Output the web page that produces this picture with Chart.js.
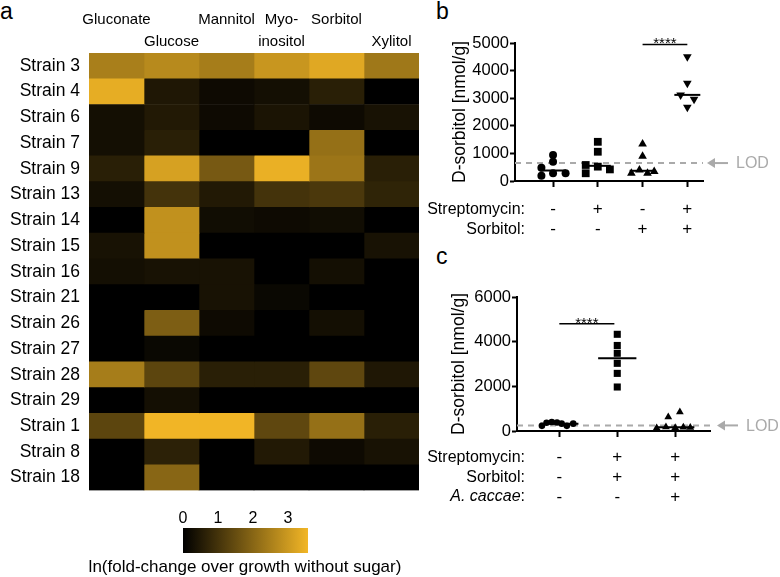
<!DOCTYPE html>
<html>
<head>
<meta charset="utf-8">
<script src="https://cdn.jsdelivr.net/npm/chart.js@4"></script>
<style>
    html, body { margin: 0; padding: 0; background: #fff; overflow: hidden; width: 780px; height: 577px; }
    body { position: relative; font-family: 'Liberation Sans', Arial, sans-serif; color: #000; }
    .box { position: absolute; }
    .tag { position: absolute; font-size: 23px; line-height: 1; }
    .row { position: absolute; font-size: 16px; line-height: 20px; text-align: right; white-space: nowrap; }
</style>
</head>
<body>
<div class="tag" style="left:0;top:0">a</div>
<div class="tag" style="left:436px;top:0">b</div>
<div class="tag" style="left:436px;top:245px">c</div>

<div class="box" style="left:0;top:0"><canvas id="heat" width="430" height="510"></canvas></div>
<div class="box" style="left:80px;top:505px"><canvas id="scale" width="340" height="50"></canvas></div>
<div class="row" style="left:80px;width:330px;top:557px;text-align:center;font-size:17px">ln(fold-change over growth without sugar)</div>

<div class="box" style="left:400px;top:0"><canvas id="panelB" width="380" height="262"></canvas></div>
<div class="row" style="right:255px;top:199px">Streptomycin:</div>
<div class="row" style="right:255px;top:219px">Sorbitol:</div>

<div class="box" style="left:400px;top:262px"><canvas id="panelC" width="380" height="315"></canvas></div>
<div class="row" style="right:255px;top:447px">Streptomycin:</div>
<div class="row" style="right:255px;top:467px">Sorbitol:</div>
<div class="row" style="right:255px;top:486px"><i>A. caccae</i>:</div>

<script>
// heatmap (panel a)
const strains = ['Strain 3', 'Strain 4', 'Strain 6', 'Strain 7', 'Strain 9', 'Strain 13', 'Strain 14',
    'Strain 15', 'Strain 16', 'Strain 21', 'Strain 26', 'Strain 27', 'Strain 28', 'Strain 29',
    'Strain 1', 'Strain 8', 'Strain 18'];
const sugarLabels = [['Gluconate', ''], ['', 'Glucose'], ['Mannitol', ''], ['Myo-', 'inositol'], ['Sorbitol', ''], ['', 'Xylitol']];
// columns: Gluconate, Glucose, Mannitol, Myo-inositol, Sorbitol, Xylitol
const lnFold = [
    [2.5, 2.7, 2.45, 2.95, 3.3, 2.35],
    [3.4, 0.45, 0.2, 0.3, 0.6, 0.0],
    [0.3, 0.5, 0.2, 0.4, 0.2, 0.35],
    [0.3, 0.6, 0.0, 0.0, 2.2, 0.0],
    [0.6, 3.15, 1.75, 3.45, 2.3, 0.6],
    [0.3, 1.0, 0.5, 1.0, 1.1, 0.7],
    [0.0, 2.85, 0.25, 0.2, 0.25, 0.0],
    [0.35, 2.85, 0.0, 0.0, 0.0, 0.35],
    [0.3, 0.35, 0.35, 0.0, 0.3, 0.0],
    [0.0, 0.0, 0.35, 0.15, 0.0, 0.0],
    [0.0, 1.85, 0.2, 0.0, 0.3, 0.0],
    [0.0, 0.15, 0.0, 0.0, 0.0, 0.0],
    [2.45, 1.35, 0.6, 0.6, 1.4, 0.45],
    [0.0, 0.3, 0.0, 0.0, 0.0, 0.0],
    [1.35, 3.55, 3.55, 1.4, 2.2, 0.6],
    [0.0, 0.65, 0.0, 0.5, 0.2, 0.35],
    [0.0, 2.0, 0.0, 0.0, 0.0, 0.0]
];
const scaleTicks = [0, 1, 2, 3];
const scaleMax = 3.57;

// panel b: D-sorbitol [nmol/g]
const bStrep = ['-', '+', '-', '+'];
const bSorb = ['-', '-', '+', '+'];
const bNone = [480, 190, 940, 700, 280, 280];
const bNoneSpread = [-0.26, -0.26, 0, 0, 0, 0.28];
const bStrepOnly = [580, 280, 1420, 1060, 520, 420];
const bStrepOnlySpread = [-0.27, -0.27, 0, 0, 0, 0.27];
const bSorbOnly = [1340, 900, 280, 400, 280, 340];
const bSorbOnlySpread = [0, 0, -0.25, -0.07, 0.11, 0.26];
const bBoth = [4500, 3540, 3120, 2960, 2670];
const bBothSpread = [0, 0, -0.15, 0.15, 0];
const bTicks = [0, 1000, 2000, 3000, 4000, 5000];
const bLod = 650;

// panel c
const cStrep = ['-', '+', '+'];
const cSorb = ['-', '+', '+'];
const cCaccae = ['-', '-', '+'];
const cNone = [230, 370, 400, 380, 330, 230, 330];
const cNoneSpread = [-0.30, -0.22, -0.13, -0.04, 0.04, 0.13, 0.24];
const cStrepSorb = [4330, 3830, 3480, 3030, 2580, 1970];
const cStrepSorbSpread = [0, 0, 0, 0, 0, 0];
const cCaccaeGroup = [130, 180, 150, 170, 160, 630, 850];
const cCaccaeSpread = [-0.32, -0.16, 0, 0.14, 0.26, -0.12, 0.08];
const cTicks = [0, 2000, 4000, 6000];
const cLod = 250;

Chart.defaults.font.family = "'Liberation Sans', Arial, sans-serif";
Chart.defaults.color = '#000';

function heatColor(v) {
    const t = Math.max(0, Math.min(1, v / scaleMax));
    return 'rgb(' + Math.round(242 * t) + ',' + Math.round(182 * t) + ',' + Math.round(38 * t) + ')';
}

new Chart(document.getElementById('heat'), {
    type: 'bar',
    data: {
        labels: strains,
        datasets: sugarLabels.map((s, j) => ({
            data: strains.map(() => [j, j + 1]),
            backgroundColor: strains.map((_, i) => heatColor(lnFold[i][j])),
            borderWidth: 0,
            barPercentage: 1,
            categoryPercentage: 1,
            grouped: false
        }))
    },
    options: {
        indexAxis: 'y',
        responsive: false,
        animation: false,
        devicePixelRatio: 1,
        layout: { padding: { left: 0, right: 11, top: 0, bottom: 8 } },
        plugins: { legend: { display: false }, tooltip: { enabled: false } },
        scales: {
            x: {
                type: 'linear', position: 'top', min: 0, max: 6,
                afterBuildTicks: ax => { ax.ticks = sugarLabels.map((s, j) => ({ value: j + 0.5 })); },
                ticks: { callback: (v, i) => sugarLabels[i], font: { size: 15, lineHeight: 1.467 }, padding: 0, maxRotation: 0, autoSkip: false },
                grid: { display: false, drawTicks: false },
                border: { display: false },
                afterFit: s => { s.height = 53; }
            },
            y: {
                ticks: { font: { size: 17.5 }, padding: 9, autoSkip: false },
                grid: { display: false, drawTicks: false },
                border: { display: false },
                afterFit: s => { s.width = 89; }
            }
        }
    }
});

new Chart(document.getElementById('scale'), {
    type: 'bar',
    data: {
        labels: [''],
        datasets: [{
            data: [[0, scaleMax]],
            backgroundColor: c => {
                const x = c.chart.scales.x;
                if (!c.chart.chartArea || !x) return heatColor(scaleMax / 2);
                const x0 = x.getPixelForValue(0), x1 = x.getPixelForValue(scaleMax);
                if (!isFinite(x0) || !isFinite(x1)) return heatColor(scaleMax / 2);
                const g = c.chart.ctx.createLinearGradient(x0, 0, x1, 0);
                g.addColorStop(0, heatColor(0));
                g.addColorStop(1, heatColor(scaleMax));
                return g;
            },
            borderWidth: 0, barPercentage: 1, categoryPercentage: 1
        }]
    },
    options: {
        indexAxis: 'y',
        responsive: false,
        animation: false,
        devicePixelRatio: 1,
        layout: { padding: { left: 103, right: 112, top: 0, bottom: 2 } },
        plugins: { legend: { display: false }, tooltip: { enabled: false } },
        scales: {
            x: {
                type: 'linear', position: 'top', min: 0, max: scaleMax,
                afterBuildTicks: ax => { ax.ticks = scaleTicks.map(v => ({ value: v })); },
                ticks: { font: { size: 16 }, padding: 0 },
                grid: { display: false, drawTicks: false },
                border: { display: false },
                afterFit: s => { s.height = 23; }
            },
            y: { display: false }
        }
    }
});

function points(vals, spread, x) {
    return vals.map((v, i) => ({ x: x + spread[i], y: v }));
}
function median(vals) {
    const s = [...vals].sort((p, q) => p - q);
    const m = s.length >> 1;
    return s.length % 2 ? s[m] : (s[m - 1] + s[m]) / 2;
}
function medianLine(vals, x, w) {
    const m = median(vals);
    return { data: [{ x: x - w, y: m }, { x: x + w, y: m }], showLine: true, pointRadius: 0, borderColor: '#000', borderWidth: 2 };
}
function dots(data, style, r, rot) {
    return { data: data, pointStyle: style, pointRadius: r, rotation: rot || 0, backgroundColor: '#000', borderColor: '#000', borderWidth: 0, clip: false };
}

// stars and LOD arrow
const notes = {
    id: 'notes',
    afterDatasetsDraw(chart, args, o) {
        const { ctx, scales: { x, y } } = chart;
        ctx.save();
        ctx.fillStyle = '#000';
        ctx.font = "15px 'Liberation Sans', Arial";
        ctx.textAlign = 'center';
        ctx.textBaseline = 'alphabetic';
        const sx = (x.getPixelForValue(o.sig[0]) + x.getPixelForValue(o.sig[1])) / 2;
        ctx.fillText('****', sx, y.getPixelForValue(o.sigY) + 4);

        const ly = y.getPixelForValue(o.lod);
        const tip = x.right + o.gap;
        ctx.strokeStyle = '#aaa';
        ctx.fillStyle = '#aaa';
        ctx.lineWidth = 2;
        ctx.beginPath();
        ctx.moveTo(tip + 6, ly);
        ctx.lineTo(tip + 21, ly);
        ctx.stroke();
        ctx.beginPath();
        ctx.moveTo(tip, ly);
        ctx.lineTo(tip + 8, ly - 5);
        ctx.lineTo(tip + 8, ly + 5);
        ctx.closePath();
        ctx.fill();
        ctx.font = "16px 'Liberation Sans', Arial";
        ctx.textAlign = 'left';
        ctx.textBaseline = 'middle';
        ctx.fillText('LOD', tip + 29, ly + 1);
        ctx.restore();
    }
};

function axisOpts(min, max, ticks, rows, yTicks, yMax, yWidth, xHeight, titlePad) {
    return {
        x: {
            type: 'linear', min: min, max: max,
            afterBuildTicks: ax => { ax.ticks = rows[0].map((r, i) => ({ value: i })); },
            ticks: { callback: (v, i) => rows.map(r => r[i]), font: { size: 17, lineHeight: 1.18 }, padding: ticks, maxRotation: 0, autoSkip: false },
            grid: { drawOnChartArea: false, tickLength: 6, tickWidth: 2, color: '#000' },
            border: { color: '#000', width: 2 },
            afterFit: s => { s.height = xHeight; }
        },
        y: {
            min: 0, max: yMax,
            afterBuildTicks: ax => { ax.ticks = yTicks.map(v => ({ value: v })); },
            ticks: { callback: v => String(v), font: { size: 16.5 }, padding: 1 },
            grid: { drawOnChartArea: false, tickLength: 5, tickWidth: 2, color: '#000' },
            border: { color: '#000', width: 2 },
            title: { display: true, text: 'D-sorbitol [nmol/g]', font: { size: 17.5 }, padding: { top: titlePad, bottom: 0 } },
            afterFit: s => { s.width = yWidth; }
        }
    };
}

new Chart(document.getElementById('panelB'), {
    type: 'scatter',
    data: {
        datasets: [
            dots(points(bNone, bNoneSpread, 0), 'circle', 4),
            dots(points(bStrepOnly, bStrepOnlySpread, 1), 'rect', 5.5),
            dots(points(bSorbOnly, bSorbOnlySpread, 2), 'triangle', 5),
            dots(points(bBoth, bBothSpread, 3), 'triangle', 5, 180),
            medianLine(bNone, 0, 0.29),
            medianLine(bStrepOnly, 1, 0.29),
            medianLine(bSorbOnly, 2, 0.29),
            medianLine(bBoth, 3, 0.29),
            { data: [{ x: 2, y: 4950 }, { x: 3, y: 4950 }], showLine: true, pointRadius: 0, borderColor: '#000', borderWidth: 1.5, clip: false },
            { data: [{ x: -0.85, y: bLod }, { x: 3.35, y: bLod }], showLine: true, pointRadius: 0, borderColor: '#aaa', borderWidth: 2, borderDash: [6, 5] }
        ]
    },
    options: {
        responsive: false,
        animation: false,
        devicePixelRatio: 1,
        layout: { padding: { left: 0, right: 77, top: 43, bottom: 0 } },
        plugins: { legend: { display: false }, tooltip: { enabled: false }, notes: { sig: [2, 3], sigY: 4950, lod: bLod, gap: 4 } },
        scales: axisOpts(-0.85, 3.35, 12, [bStrep, bSorb], bTicks, 5000, 115, 81, 49.5)
    },
    plugins: [notes]
});

new Chart(document.getElementById('panelC'), {
    type: 'scatter',
    data: {
        datasets: [
            dots(points(cNone, cNoneSpread, 0), 'circle', 3.3),
            dots(points(cStrepSorb, cStrepSorbSpread, 1), 'rect', 5),
            dots(points(cCaccaeGroup, cCaccaeSpread, 2), 'triangle', 4.5),
            medianLine(cNone, 0, 0.33),
            medianLine(cStrepSorb, 1, 0.33),
            medianLine(cCaccaeGroup, 2, 0.33),
            { data: [{ x: 0, y: 4800 }, { x: 0.95, y: 4800 }], showLine: true, pointRadius: 0, borderColor: '#000', borderWidth: 1.5 },
            { data: [{ x: -0.73, y: cLod }, { x: 2.6, y: cLod }], showLine: true, pointRadius: 0, borderColor: '#aaa', borderWidth: 2, borderDash: [6, 5] }
        ]
    },
    options: {
        responsive: false,
        animation: false,
        devicePixelRatio: 1,
        layout: { padding: { left: 0, right: 70, top: 35, bottom: 0 } },
        plugins: { legend: { display: false }, tooltip: { enabled: false }, notes: { sig: [0, 0.95], sigY: 4800, lod: cLod, gap: 7 } },
        scales: axisOpts(-0.73, 2.6, 10, [cStrep, cSorb, cCaccae], cTicks, 6000, 117, 146, 48.5)
    },
    plugins: [notes]
});
</script>
</body>
</html>
